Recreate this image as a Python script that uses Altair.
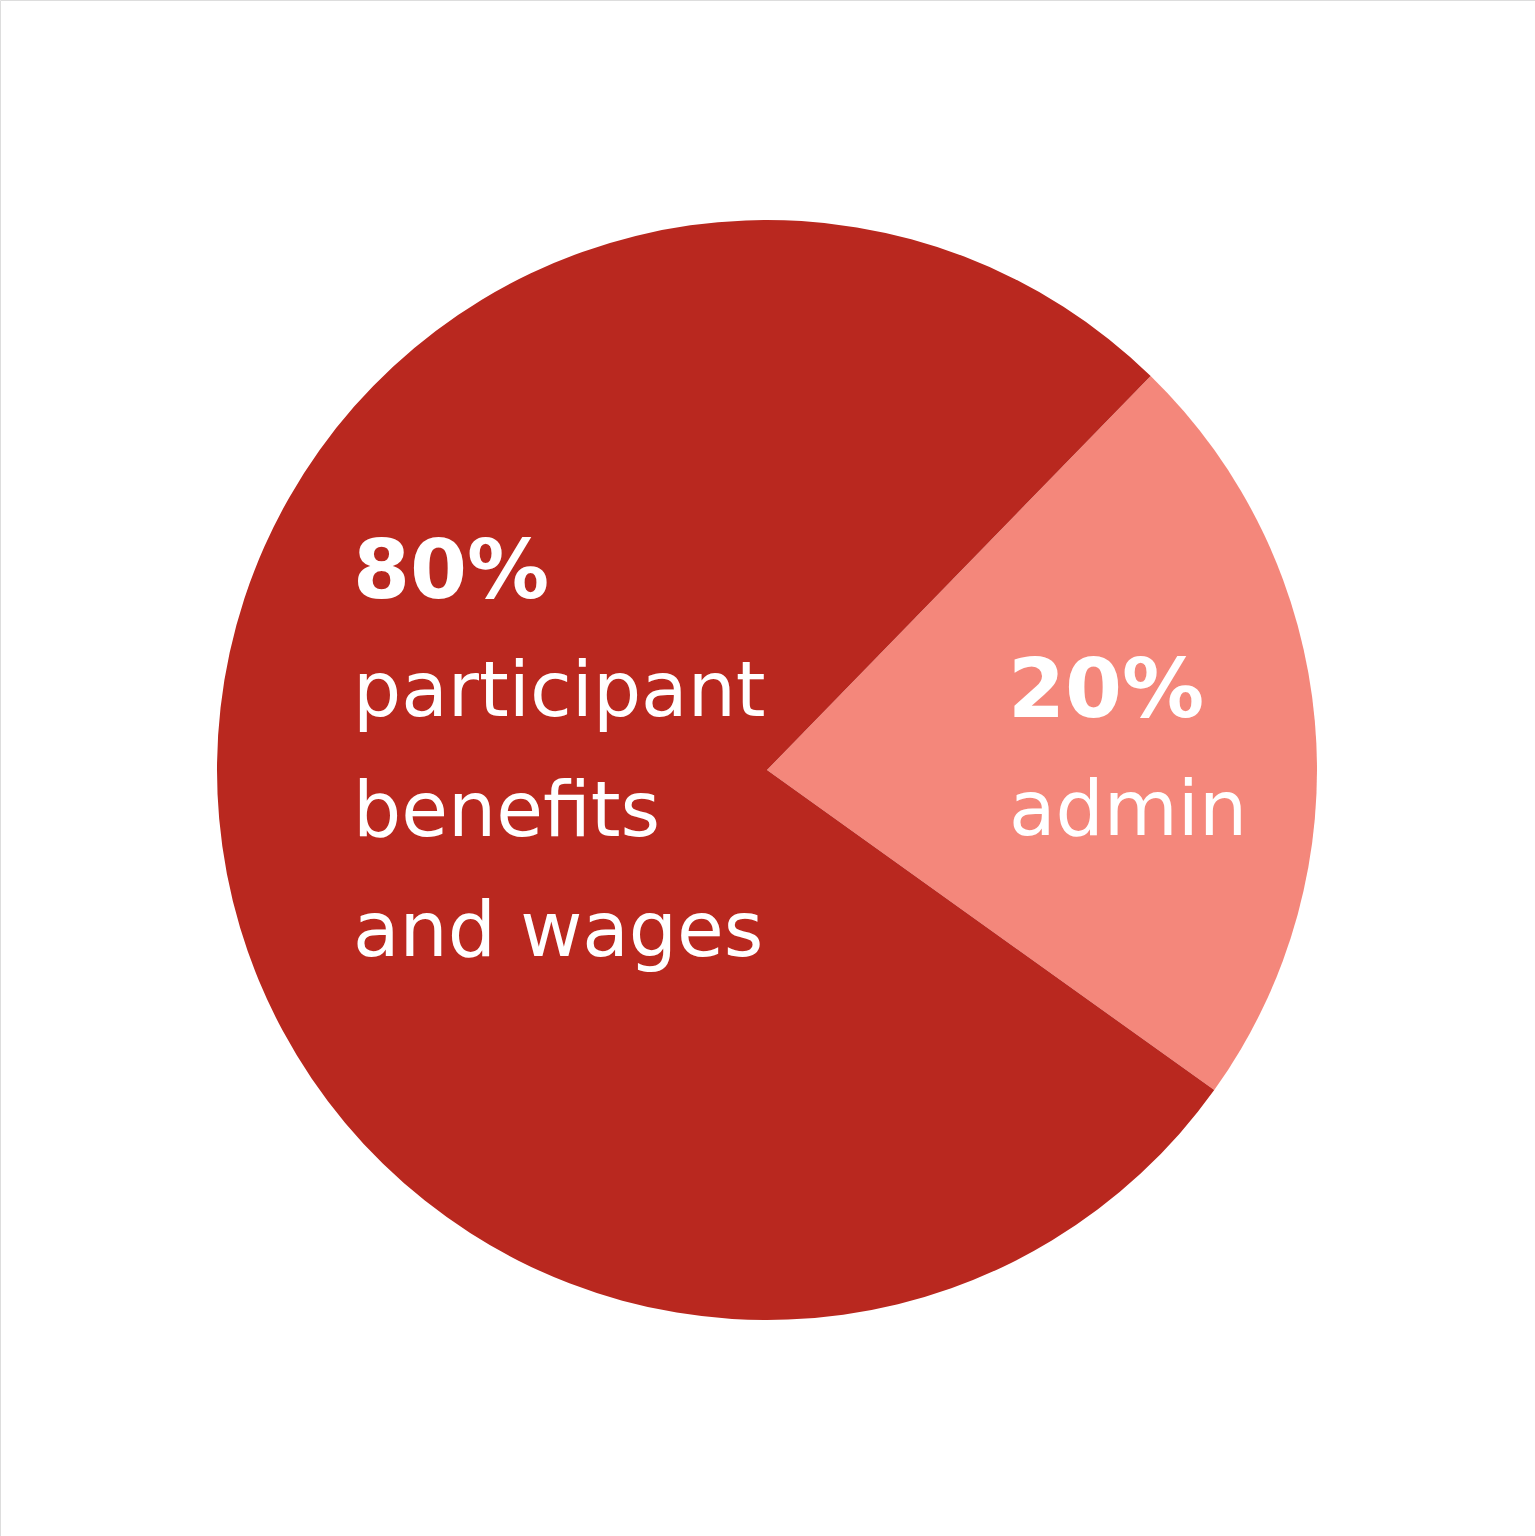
import altair as alt
import pandas as pd
import math

# Data
categories = ["admin", "participant benefits and wages"]
shares = [22.6, 77.4]          # drawn angular shares of the pie
pct_labels = ["20%", "80%"]    # printed labels
desc_admin = ["admin"]
desc_part = ["participant", "benefits", "and wages"]

colors = ["#F4877B", "#B9281F"]

pie_df = pd.DataFrame({"category": categories, "share": shares, "order": [0, 1]})

start = 0.772
arc = alt.Chart(pie_df).mark_arc(outerRadius=550, stroke=None).encode(
    theta=alt.Theta("share:Q", stack=True,
                    scale=alt.Scale(range=[start, start + 2 * math.pi])),
    order=alt.Order("order:Q"),
    color=alt.Color("category:N", scale=alt.Scale(domain=categories, range=colors), legend=None),
    x=alt.value(767),
    y=alt.value(770),
)

FONT = "DejaVu Sans"

def txt(text, x, y, size, bold):
    return alt.Chart(pd.DataFrame({"t": [text]})).mark_text(
        align="left", baseline="alphabetic", font=FONT, fontSize=size,
        fontWeight="bold" if bold else "normal", color="white"
    ).encode(text="t:N", x=alt.value(x), y=alt.value(y))

layers = [arc]
layers.append(txt(pct_labels[1], 353, 598, 82, True))
for i, line in enumerate(desc_part):
    layers.append(txt(line, 353, 716 + 120 * i, 76, False))
layers.append(txt(pct_labels[0], 1008, 717, 82, True))
layers.append(txt(desc_admin[0], 1009, 835, 76, False))

chart = alt.layer(*layers).properties(
    width=1535, height=1536, autosize=alt.AutoSizeParams(type="none"), padding=0
).configure_view(stroke=None).configure(background="white")

chart.save("out.html", embed_options={"renderer": "svg", "actions": False})
